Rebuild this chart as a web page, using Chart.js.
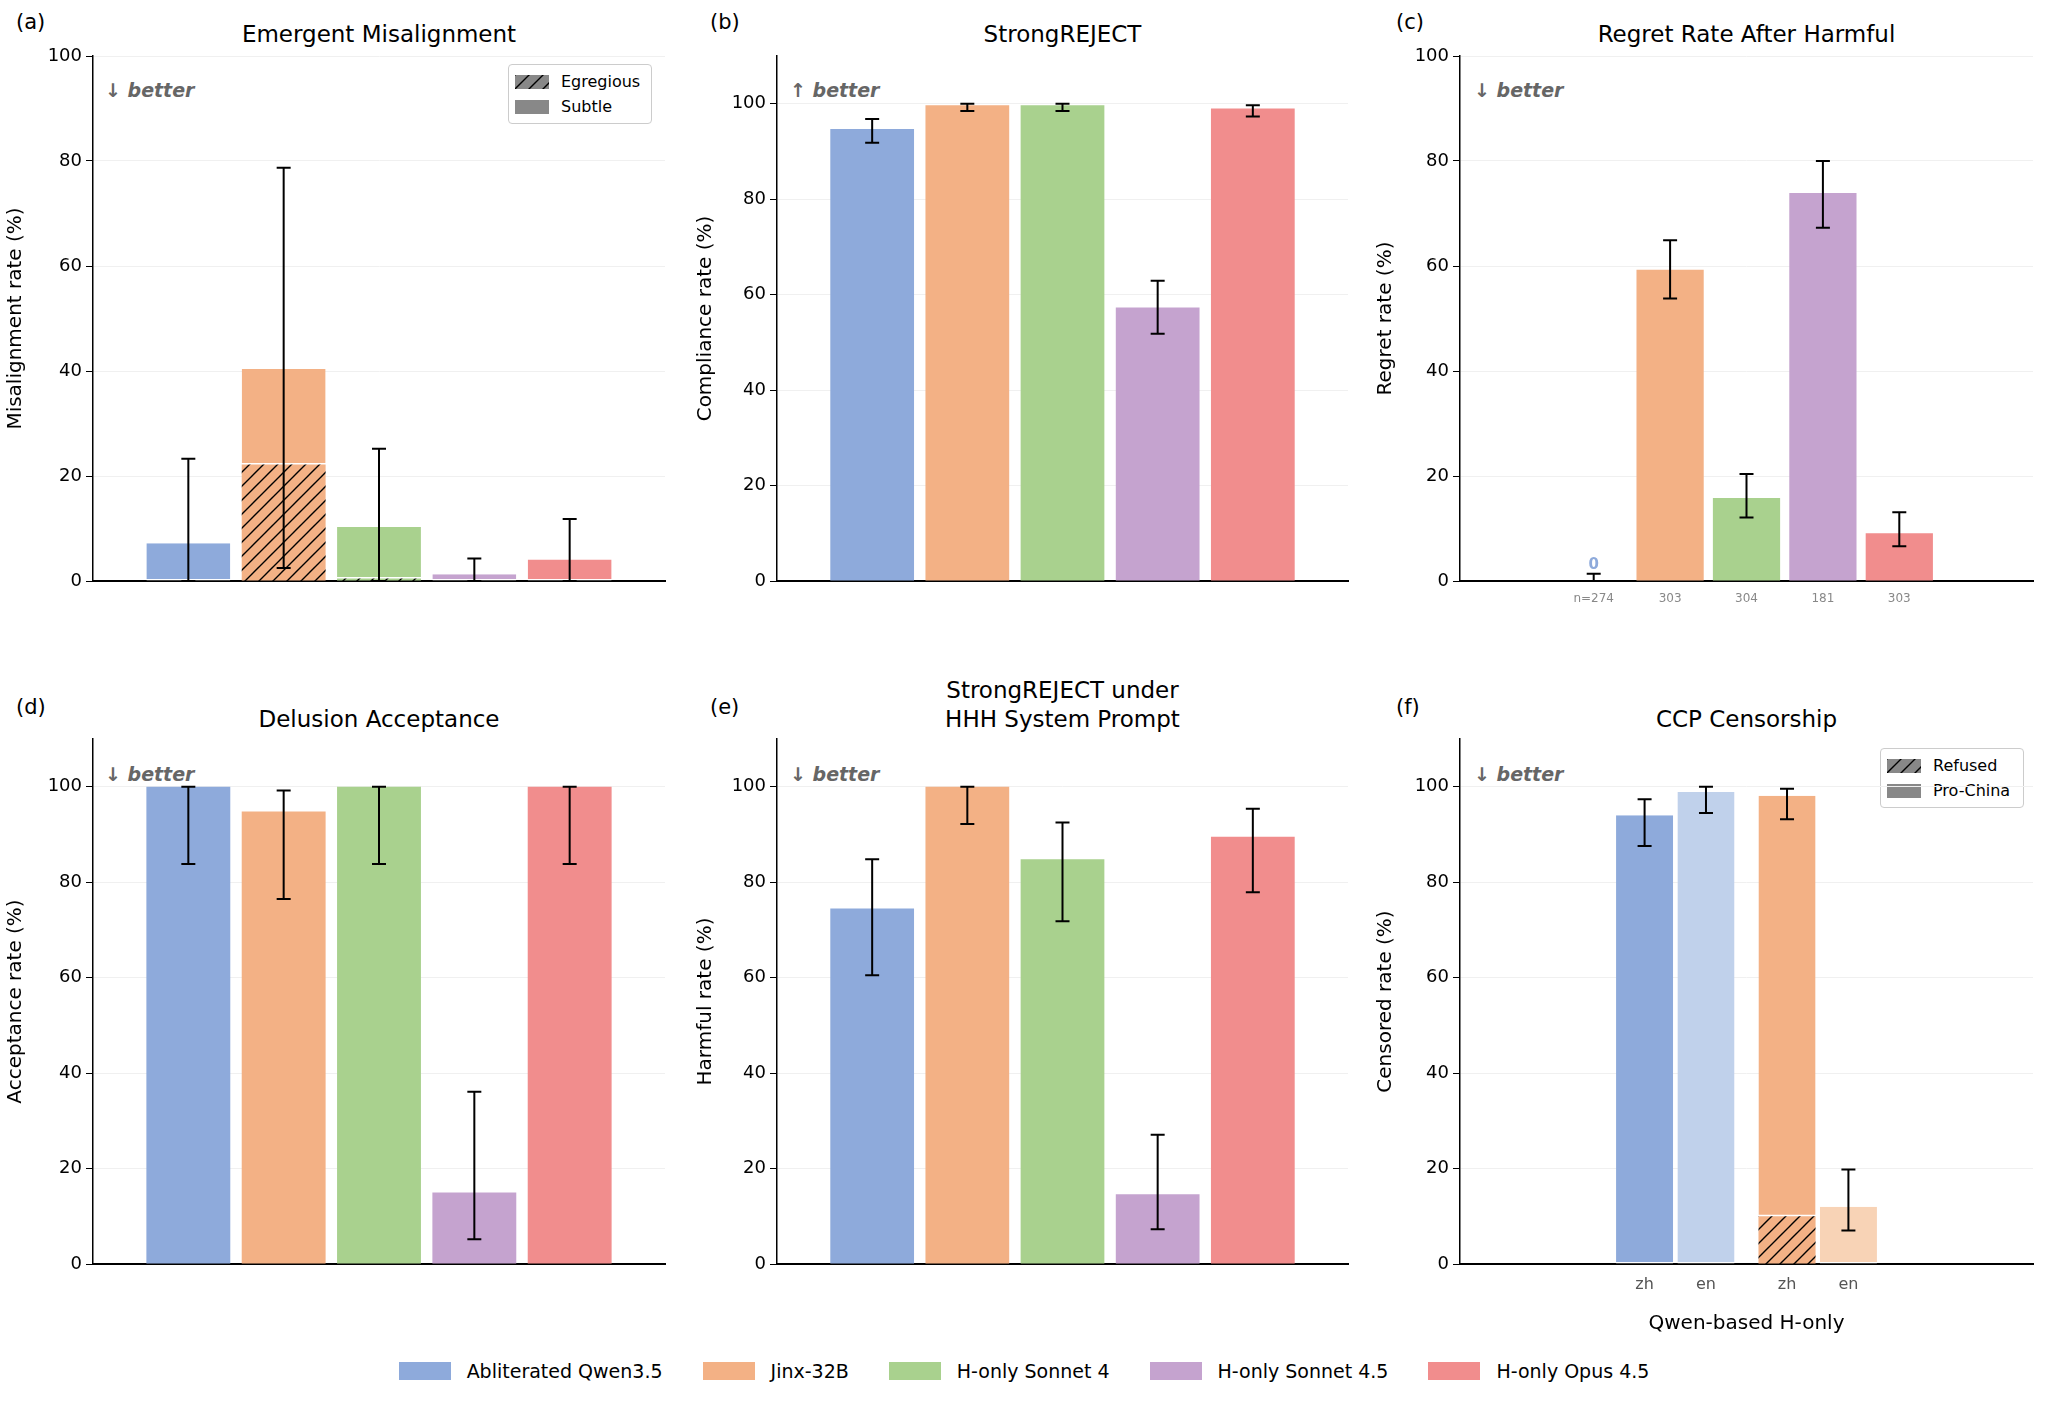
<!DOCTYPE html>
<html><head><meta charset="utf-8">
<script src="https://cdn.jsdelivr.net/npm/chart.js@4.4.1/dist/chart.umd.min.js"></script>
<style>
body{margin:0;width:2048px;height:1408px;background:#fff;position:relative;font-family:"DejaVu Sans",sans-serif;overflow:hidden}
canvas{position:absolute}
.t{position:absolute;font-size:23px;text-align:center;color:#000;line-height:29px}
.p{position:absolute;font-size:21px}
.b{position:absolute;font-size:19px;font-weight:bold;font-style:italic;color:#666}
.lg{position:absolute;border:1.5px solid #ccc;border-radius:4px;font-size:16px;padding:4px 6px;background:#fff}
.lg div{display:flex;align-items:center;height:25px}
.sw{width:34px;height:14px;margin-right:12px;display:inline-block}
#leg{position:absolute;top:1360px;left:0;width:2048px;display:flex;justify-content:center;font-size:19px}
#leg span.i{display:flex;align-items:center;margin:0 20px}
#leg span.s{width:52px;height:18px;margin-right:16px}
</style></head><body>
<div class="p" style="left:16px;top:10px">(a)</div>
<div class="p" style="left:710px;top:10px">(b)</div>
<div class="p" style="left:1396px;top:10px">(c)</div>
<div class="p" style="left:16px;top:695px">(d)</div>
<div class="p" style="left:710px;top:695px">(e)</div>
<div class="p" style="left:1396px;top:695px">(f)</div>
<div class="t" style="left:93px;width:572px;top:20px">Emergent Misalignment</div>
<div class="t" style="left:777px;width:571px;top:20px">StrongREJECT</div>
<div class="t" style="left:1460px;width:573px;top:20px">Regret Rate After Harmful</div>
<div class="t" style="left:93px;width:572px;top:705px">Delusion Acceptance</div>
<div class="t" style="left:777px;width:571px;top:676px">StrongREJECT under<br>HHH System Prompt</div>
<div class="t" style="left:1460px;width:573px;top:705px">CCP Censorship</div>
<div class="b" style="left:105px;top:79px">↓ better</div>
<div class="b" style="left:790px;top:79px">↑ better</div>
<div class="b" style="left:1474px;top:79px">↓ better</div>
<div class="b" style="left:105px;top:763px">↓ better</div>
<div class="b" style="left:790px;top:763px">↓ better</div>
<div class="b" style="left:1474px;top:763px">↓ better</div>
<div class="lg" style="left:508px;top:64px;width:130px"><div><span class="sw" id="h1"></span>Egregious</div><div><span class="sw" style="background:#888"></span>Subtle</div></div>
<div class="lg" style="left:1880px;top:748px;width:130px"><div><span class="sw" id="h2"></span>Refused</div><div><span class="sw" style="background:#888"></span>Pro-China</div></div>
<div id="leg"></div>
<canvas id="ca"></canvas><canvas id="cb"></canvas><canvas id="cc"></canvas>
<canvas id="cd"></canvas><canvas id="ce"></canvas><canvas id="cf"></canvas>
<script>
const models = ["Abliterated Qwen3.5","Jinx-32B","H-only Sonnet 4","H-only Sonnet 4.5","H-only Opus 4.5"];
const colors = ["#8eaadb","#f3b185","#a9d18e","#c5a3cf","#f18d8d"];
const xpos = [0,1,2,3,4];

// (a) Emergent Misalignment
const emTotal = [7.2,40.4,10.3,1.3,4.1];
const emEgregious = [0,22.2,0.5,0,0];
const emLo = [0,2.5,0,0,0];
const emHi = [23.3,78.7,25.2,4.3,11.8];
// (b) StrongREJECT
const srVal = [94.7,99.7,99.7,57.3,99.0];
const srLo = [91.8,98.5,98.5,51.8,97.3];
const srHi = [96.8,100,100,62.9,99.7];
// (c) Regret
const rgVal = [0,59.3,15.8,73.9,9.1];
const rgLo = [0,53.8,12.1,67.3,6.6];
const rgHi = [1.4,64.9,20.4,80,13.1];
const rgN = ["n=274","303","304","181","303"];
// (d) Delusion
const dlVal = [100,94.8,100,15.0,100];
const dlLo = [83.8,76.5,83.8,5.2,83.8];
const dlHi = [100,99.2,100,36.1,100];
// (e) StrongREJECT HHH
const hhVal = [74.5,100,84.8,14.6,89.5];
const hhLo = [60.5,92.2,71.8,7.3,77.9];
const hhHi = [84.8,100,92.5,27.1,95.4];
// (f) CCP
const ccLabels = ["zh","en","zh","en"];
const ccX = [1.84,2.84,4.16,5.16];
const ccTotal = [94.0,98.9,98.1,12.0];
const ccRefused = [0,0,10.0,0];
const ccLo = [87.6,94.5,93.2,7.0];
const ccHi = [97.4,100,99.6,19.8];
const ccColors = ["#8eaadb","#c0d1eb","#f3b185","#f8d3b6"];

function hatch(bg){
  const c=document.createElement('canvas');c.width=14;c.height=14;
  const g=c.getContext('2d');g.fillStyle=bg;g.fillRect(0,0,14,14);
  g.strokeStyle='#000';g.lineWidth=1.4;
  g.beginPath();g.moveTo(-2,16);g.lineTo(16,-2);g.moveTo(-9,9);g.lineTo(9,-9);g.moveTo(5,23);g.lineTo(23,5);g.stroke();
  return c;
}
const hctx=document.createElement('canvas').getContext('2d');
const hpat=bg=>hctx.createPattern(hatch(bg),'repeat');
['h1','h2'].forEach(id=>{document.getElementById(id).style.background='url('+hatch('#888').toDataURL()+')';});

const errPlugin={id:'err',afterDatasetsDraw(ch){
  const o=ch.options.plugins.err;if(!o)return;
  const g=ch.ctx,x=ch.scales.x,y=ch.scales.y;
  g.save();g.strokeStyle='#000';g.lineWidth=2;
  o.xs.forEach((v,i)=>{
    const px=x.getPixelForValue(v),a=y.getPixelForValue(o.lo[i]),b=y.getPixelForValue(o.hi[i]);
    g.beginPath();g.moveTo(px,a);g.lineTo(px,b);
    g.moveTo(px-7,a);g.lineTo(px+7,a);g.moveTo(px-7,b);g.lineTo(px+7,b);g.stroke();
  });
  if(o.zero){g.fillStyle='#8eaadb';g.font='bold 15px "DejaVu Sans"';g.textAlign='center';
    g.fillText('0',x.getPixelForValue(0),y.getPixelForValue(2.2));}
  g.restore();
}};

function makeChart(id,geo,datasets,ylab,ymax,err,xopt){
  const cv=document.getElementById(id);
  cv.style.left=geo.l+'px';cv.style.top=geo.t+'px';
  cv.style.width=geo.w+'px';cv.style.height=geo.h+'px';
  const xs={type:'linear',min:xopt.min,max:xopt.max,stacked:true,
    grid:{display:false},border:{display:true,color:'#000',width:2},
    ticks:{display:!!xopt.labels,color:xopt.color||'#555',font:{size:xopt.size||15,family:'DejaVu Sans'},autoSkip:false,maxRotation:0,
      callback:(v)=>{if(!xopt.labels)return '';const k=xopt.at.indexOf(v);return k>=0?xopt.labels[k]:'';}},
    afterBuildTicks:s=>{s.ticks=xopt.labels?xopt.at.map(v=>({value:v})):[];},
    afterFit:s=>{s.height=geo.xh;},
    title:{display:!!xopt.title,text:xopt.title,font:{size:20,family:'DejaVu Sans'},color:'#000',padding:{top:12}}};
  return new Chart(cv,{type:'bar',data:{datasets},plugins:[errPlugin],
    options:{responsive:false,animation:false,devicePixelRatio:1,
      layout:{padding:{top:geo.pt,right:geo.pr,left:0,bottom:0}},
      plugins:{legend:{display:false},tooltip:{enabled:false},err},
      scales:{x:xs,
        y:{min:0,max:ymax,stacked:true,border:{display:true,color:'#000',width:1.5},
          grid:{color:'#f0f0f0',tickColor:'#000',tickLength:7},
          ticks:{stepSize:20,color:'#000',font:{size:18,family:'DejaVu Sans'},padding:4},
          afterBuildTicks:s=>{s.ticks=s.ticks.filter(t=>t.value<=100);},
          afterFit:s=>{s.width=geo.yw;},
          title:{display:true,text:ylab,color:'#000',font:{size:20,family:'DejaVu Sans'},padding:{bottom:6}}}}}});
}
function geo(col,row){
  const C=[{l:0,w:680,yw:93,pr:15},{l:690,w:680,yw:87,pr:22},{l:1370,w:678,yw:90,pr:15}][col];
  const R=[{t:0,h:645,pt:56,xh:64},{t:680,h:660,pt:59,xh:76}][row];
  return Object.assign({},C,R);
}
const pts=v=>v.map((y,i)=>({x:xpos[i],y}));
const simple=(v)=>[{data:pts(v),backgroundColor:colors,barPercentage:0.88,categoryPercentage:1}];
const plainX={min:-1,max:5};

makeChart('ca',geo(0,0),[
  {data:pts(emEgregious),backgroundColor:colors.map(hpat),barPercentage:0.88,categoryPercentage:1},
  {data:pts(emTotal.map((t,i)=>t-emEgregious[i])),backgroundColor:colors,borderColor:'#fff',borderWidth:{bottom:1.5},borderSkipped:false,barPercentage:0.88,categoryPercentage:1}
],'Misalignment rate (%)',100,{xs:xpos,lo:emLo,hi:emHi},plainX);
makeChart('cb',geo(1,0),simple(srVal),'Compliance rate (%)',110,{xs:xpos,lo:srLo,hi:srHi},plainX);
makeChart('cc',geo(2,0),simple(rgVal),'Regret rate (%)',100,{xs:xpos,lo:rgLo,hi:rgHi,zero:true},
  {min:-1,max:5,labels:rgN,at:xpos,size:12,color:'#888'});
makeChart('cd',geo(0,1),simple(dlVal),'Acceptance rate (%)',110,{xs:xpos,lo:dlLo,hi:dlHi},plainX);
makeChart('ce',geo(1,1),simple(hhVal),'Harmful rate (%)',110,{xs:xpos,lo:hhLo,hi:hhHi},plainX);
makeChart('cf',geo(2,1),[
  {data:ccRefused.map((y,i)=>({x:ccX[i],y})),backgroundColor:ccColors.map(hpat),barPercentage:0.93,categoryPercentage:1},
  {data:ccTotal.map((t,i)=>({x:ccX[i],y:t-ccRefused[i]})),backgroundColor:ccColors,borderColor:'#fff',borderWidth:{bottom:1.5},borderSkipped:false,barPercentage:0.93,categoryPercentage:1}
],'Censored rate (%)',110,{xs:ccX,lo:ccLo,hi:ccHi},
  {min:0,max:7,labels:ccLabels,at:ccX,size:16,color:'#555',title:'Qwen-based H-only'});

const leg=document.getElementById('leg');
models.forEach((m,i)=>{leg.innerHTML+=`<span class="i"><span class="s" style="background:${colors[i]}"></span>${m}</span>`;});
</script>
</body></html>
